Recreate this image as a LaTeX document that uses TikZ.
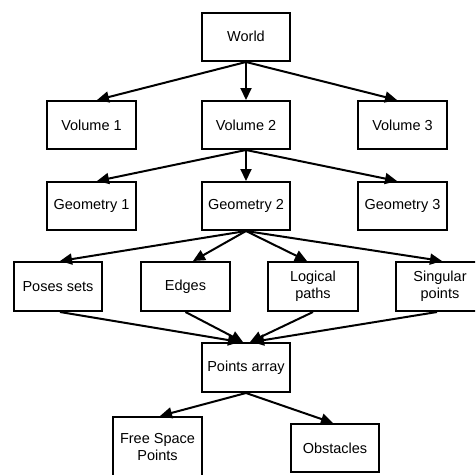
\documentclass[tikz,border=0pt]{standalone}
\usepackage{fontspec}
\setmainfont{Liberation Sans}
\usetikzlibrary{arrows.meta}
\begin{document}
\begin{tikzpicture}[x=1pt,y=-1pt,
  box/.style={draw=black,line width=2pt,fill=white,rectangle,minimum width=88pt,
    minimum height=48pt,inner sep=2pt,align=center,
    font=\fontsize{14.5}{17}\selectfont},
  link/.style={line width=2pt,-{Triangle[length=12pt,width=11pt]}}]
\useasboundingbox (0,0) rectangle (475,475);
\clip (0,0) rectangle (475,475);
\fill[white] (0,0) rectangle (475,475);
% tree of boxes
\node[box,minimum height=48.5pt] (world) at (246,36.75) {World};
\node[box,minimum width=89pt] (v1) at (91.5,125) {Volume 1};
\node[box] (v2) at (246,125) {Volume 2};
\node[box,minimum width=89pt] (v3) at (402.5,125) {Volume 3};
\node[box,minimum width=89pt] (g1) at (91.5,206) {Geometry 1};
\node[box] (g2) at (246,206) {Geometry 2};
\node[box,minimum width=89pt] (g3) at (402.5,206) {Geometry 3};
\node[box,minimum height=49pt] (poses) at (58,286.5) {Poses sets};
\node[box,minimum width=89pt,minimum height=49pt] (edges) at (185.5,286.5) {Edges};
\node[box,minimum width=90pt,minimum height=49pt] (logic) at (313,286.5) {Logical\\paths};
\node[box,minimum height=49pt] (sing) at (440,286.5) {Singular\\points};
\node[box,minimum height=49pt] (parr) at (246,367.5) {Points array};
\node[box,minimum width=89pt,minimum height=60pt] (free) at (157.5,447) {Free Space\\Points};
\node[box] (obst) at (335,448) {Obstacles};
% connectors
\draw[link] (world.south) -- ([xshift=5.5pt]v1.north);
\draw[link] (world.south) -- (v2.north);
\draw[link] (world.south) -- ([xshift=-5.5pt]v3.north);
\draw[link] (v2.south) -- ([xshift=5.5pt]g1.north);
\draw[link] (v2.south) -- (g2.north);
\draw[link] (v2.south) -- ([xshift=-5.5pt]g3.north);
\draw[link] (g2.south) -- ([xshift=2pt]poses.north);
\draw[link] (g2.south) -- ([xshift=7.5pt]edges.north);
\draw[link] (g2.south) -- ([xshift=-6pt]logic.north);
\draw[link] (g2.south) -- ([xshift=2pt]sing.north);
\draw[link] ([xshift=2pt]poses.south) -- ([xshift=-6pt]parr.north);
\draw[link] (edges.south) -- ([xshift=-3pt]parr.north);
\draw[link] (logic.south) -- ([xshift=4pt]parr.north);
\draw[link] ([xshift=-3pt]sing.south) -- ([xshift=6pt]parr.north);
\draw[link] (parr.south) -- ([xshift=2.5pt]free.north);
\draw[link] (parr.south) -- ([xshift=-2pt]obst.north);
\end{tikzpicture}
\end{document}
